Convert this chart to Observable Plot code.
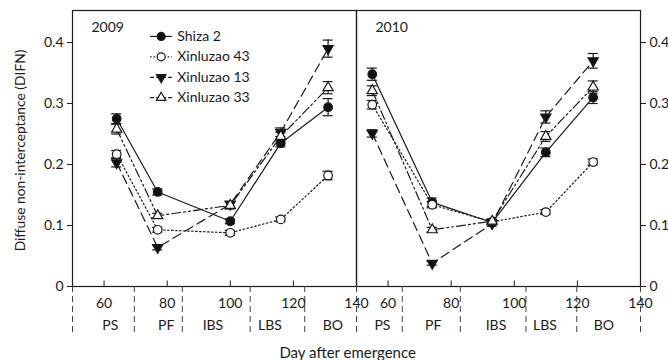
<!DOCTYPE html>
<html><head><meta charset="utf-8">
<script src="https://cdn.jsdelivr.net/npm/d3@7"></script>
<script src="https://cdn.jsdelivr.net/npm/@observablehq/plot@0.6"></script>
<style>body{margin:0;background:#fff} svg{display:block}</style>
</head><body><div id="chart"></div>
<script>
const years = ["2009", "2010"];
const seriesNames = ["Shiza 2", "Xinluzao 43", "Xinluzao 13", "Xinluzao 33"];
const days2009 = [64, 77, 100, 116, 131];
const days2010 = [55, 74, 93, 110, 125];

const shiza2_2009 = [0.275, 0.155, 0.107, 0.235, 0.294];
const xinluzao43_2009 = [0.217, 0.093, 0.088, 0.110, 0.182];
const xinluzao13_2009 = [0.203, 0.064, 0.135, 0.253, 0.390];
const xinluzao33_2009 = [0.258, 0.116, 0.133, 0.246, 0.326];

const shiza2_2010 = [0.348, 0.138, 0.105, 0.220, 0.310];
const xinluzao43_2010 = [0.298, 0.134, 0.106, 0.122, 0.204];
const xinluzao13_2010 = [0.251, 0.038, 0.103, 0.278, 0.370];
const xinluzao33_2010 = [0.321, 0.093, 0.107, 0.246, 0.327];

const shiza2Err_2009 = [0.008, 0.005, 0.004, 0.006, 0.014];
const xinluzao43Err_2009 = [0.006, 0.004, 0.004, 0.004, 0.007];
const xinluzao13Err_2009 = [0.007, 0.004, 0.004, 0.007, 0.014];
const xinluzao33Err_2009 = [0.008, 0.004, 0.006, 0.007, 0.010];
const shiza2Err_2010 = [0.010, 0.007, 0.004, 0.007, 0.010];
const xinluzao43Err_2010 = [0.007, 0.005, 0.004, 0.004, 0.005];
const xinluzao13Err_2010 = [0.006, 0.003, 0.004, 0.010, 0.012];
const xinluzao33Err_2010 = [0.008, 0.004, 0.004, 0.008, 0.010];

const xTicks = [60, 80, 100, 120, 140];
const yTicks = [0, 0.1, 0.2, 0.3, 0.4];
const stages = ["PS", "PF", "IBS", "LBS", "BO"];
const stageBounds2009 = [50, 69.6, 84.8, 106.3, 123.6, 140];
const stageBounds2010 = [50, 64.5, 82.9, 103.7, 119.8, 140];
const stageLabelX2009 = [62, 79.7, 94.5, 112.6, 132.5];
const stageLabelX2010 = [58.2, 74.3, 94.2, 109.7, 128.4];

// ---- build tables ----
const valuesByYear = {
  "2009": [shiza2_2009, xinluzao43_2009, xinluzao13_2009, xinluzao33_2009],
  "2010": [shiza2_2010, xinluzao43_2010, xinluzao13_2010, xinluzao33_2010]
};
const errsByYear = {
  "2009": [shiza2Err_2009, xinluzao43Err_2009, xinluzao13Err_2009, xinluzao33Err_2009],
  "2010": [shiza2Err_2010, xinluzao43Err_2010, xinluzao13Err_2010, xinluzao33Err_2010]
};
const daysByYear = {"2009": days2009, "2010": days2010};
const table = [];
for (const yr of years) {
  seriesNames.forEach((s, si) => {
    daysByYear[yr].forEach((d, i) => {
      table.push({year: yr, series: s, day: d, value: valuesByYear[yr][si][i], err: errsByYear[yr][si][i]});
    });
  });
}
const seps = [
  ...stageBounds2009.map(x => ({year: "2009", x})),
  ...stageBounds2010.map(x => ({year: "2010", x}))
];
const stageLabels = [
  ...stages.map((s, i) => ({year: "2009", x: stageLabelX2009[i], s})),
  ...stages.map((s, i) => ({year: "2010", x: stageLabelX2010[i], s}))
];

const styles = {
  "Shiza 2":     {dash: null, symbol: "circle", fill: "#111", rotate: 0, r: 4.3},
  "Xinluzao 43": {dash: "1.5,2.5", symbol: "circle", fill: "white", rotate: 0, r: 4.3},
  "Xinluzao 13": {dash: "9,5", symbol: "triangle", fill: "#111", rotate: 180, r: 3.8},
  "Xinluzao 33": {dash: "9,3,2,3,2,3", symbol: "triangle", fill: "white", rotate: 0, r: 3.8}
};

const ink = "#1a1a1a";
const fs = 14;
const marks = [];
// frame, separators, ticks
marks.push(Plot.frame({stroke: ink, strokeWidth: 1.2}));
marks.push(Plot.ruleX(seps, {x: "x", fx: "year", y1: 0, y2: -0.08, stroke: "#444", strokeDasharray: "6,4"}));
marks.push(Plot.ruleX(xTicks, {x: d => d, y1: 0, y2: 0.009, stroke: ink}));
marks.push(Plot.axisX({ticks: xTicks, tickSize: 0, tickPadding: 12, label: null, fill: ink, fontSize: fs}));
marks.push(Plot.axisY({anchor: "left", ticks: yTicks, tickSize: 5, tickPadding: 4,
  tickFormat: d => d === 0 ? "0" : d.toFixed(1), label: null, stroke: ink, fill: ink, fontSize: fs}));
marks.push(Plot.axisY({anchor: "right", ticks: yTicks, tickSize: 5, tickPadding: 4,
  tickFormat: d => d === 0 ? "0" : d.toFixed(1), label: null, stroke: ink, fill: ink, fontSize: fs}));
marks.push(Plot.text(["Diffuse non-interceptance (DIFN)"], {fx: () => "2009", x: 50, y: 0.223, dx: -52, rotate: -90,
  text: d => d, fill: ink, fontSize: 13.8}));
marks.push(Plot.text(stageLabels, {x: "x", fx: "year", y: -0.064, text: "s", fill: ink, fontSize: fs}));
marks.push(Plot.text(["Day after emergence"], {fx: () => "2010", x: 47.2, y: -0.109, text: d => d, fill: ink, fontSize: 15}));
marks.push(Plot.text(years, {fx: d => d, text: d => d, x: 56, y: 0.424, textAnchor: "start", fill: ink, fontSize: fs}));

// series lines
for (const s of seriesNames) {
  const st = styles[s];
  const data = table.filter(d => d.series === s);
  marks.push(Plot.line(data, {x: "day", y: "value", fx: "year", z: "year", stroke: ink, strokeWidth: 1.2,
    strokeDasharray: st.dash || undefined}));
}
// error bars
marks.push(Plot.ruleX(table, {x: "day", y1: d => d.value - d.err, y2: d => d.value + d.err, fx: "year", stroke: ink, strokeWidth: 1.2}));
marks.push(Plot.ruleY(table, {y: d => d.value - d.err, x1: d => d.day - 1.6, x2: d => d.day + 1.6, fx: "year", stroke: ink, strokeWidth: 1.2}));
marks.push(Plot.ruleY(table, {y: d => d.value + d.err, x1: d => d.day - 1.6, x2: d => d.day + 1.6, fx: "year", stroke: ink, strokeWidth: 1.2}));
// markers
for (const s of seriesNames) {
  const st = styles[s];
  const data = table.filter(d => d.series === s);
  marks.push(Plot.dot(data, {x: "day", y: "value", fx: "year", symbol: st.symbol, r: st.r, rotate: st.rotate,
    fill: st.fill, stroke: ink, strokeWidth: 1.2}));
}
// legend (inside 2009 panel)
const legend = seriesNames.map((s, i) => ({year: "2009", series: s, i}));
const legY = d => 0.410 - d.i * 0.0335;
for (const s of seriesNames) {
  const st = styles[s];
  const ld = legend.filter(d => d.series === s);
  marks.push(Plot.link(ld, {fx: "year", x1: 74.6, x2: 81.5, y1: legY, y2: legY, stroke: ink, strokeWidth: 1.2,
    strokeDasharray: st.dash ? (st.dash === "1.5,2.5" ? "1.5,2" : "4,2") : undefined}));
  marks.push(Plot.dot(ld, {fx: "year", x: 78.1, y: legY, symbol: st.symbol, r: st.r - 0.3, rotate: st.rotate,
    fill: st.fill, stroke: ink, strokeWidth: 1.2}));
}
marks.push(Plot.text(legend, {fx: "year", x: 83.2, y: legY, text: "series", textAnchor: "start", fill: ink, fontSize: fs}));

const chart = Plot.plot({
  width: 668, height: 360,
  marginLeft: 72, marginRight: 28, marginTop: 10, marginBottom: 74,
  style: {fontFamily: "Lato, 'Open Sans', sans-serif", fontSize: "14px", color: ink, background: "white", overflow: "visible"},
  x: {domain: [50, 140], axis: null},
  y: {domain: [0, 0.4525], axis: null},
  fx: {domain: years, padding: 0, axis: null},
  marks
});
document.getElementById("chart").append(chart);
</script>
</body></html>
